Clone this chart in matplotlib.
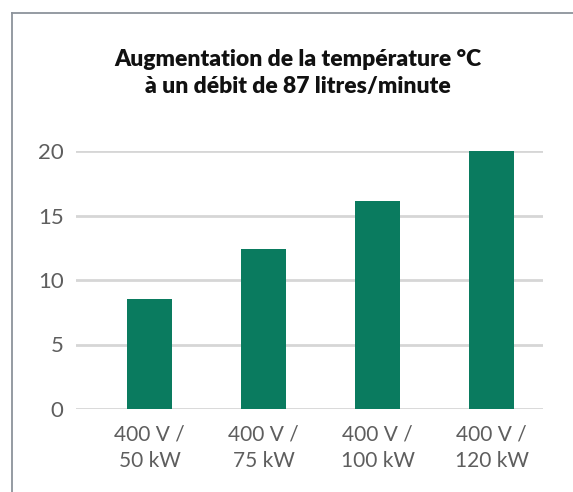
import matplotlib
matplotlib.use("Agg")
import matplotlib.pyplot as plt
from matplotlib.lines import Line2D
import numpy as np

# =========================================
# DATA
# =========================================
categories = ["400 V /\n50 kW", "400 V /\n75 kW", "400 V /\n100 kW", "400 V /\n120 kW"]
temp_rise = [8.5, 12.4, 16.1, 20.0]
y_ticks = [0, 5, 10, 15, 20]

title = "Augmentation de la température °C\nà un débit de 87 litres/minute"

bar_color = "#0a7b5f"
text_color = "#5e5e5e"
grid_color = "#d6d6d6"

plt.rcParams["font.family"] = "Lato"

fig = plt.figure(figsize=(5.73, 4.92), dpi=100)
ax = fig.add_axes([76 / 573, 1 - 409 / 492, (543 - 76) / 573, (409 - 151) / 492])

x = np.arange(len(categories))
ax.bar(x, temp_rise, width=0.395, color=bar_color, zorder=3)

ax.set_xlim(-0.645, 3.45)
ax.set_ylim(0, 20)
ax.set_yticks(y_ticks)
ax.set_yticklabels([str(t) for t in y_ticks], fontsize=16, color=text_color)
ax.set_xticks(x)
ax.set_xticklabels(categories, fontsize=15, color=text_color, linespacing=1.45)
ax.tick_params(axis="both", length=0)
ax.tick_params(axis="y", pad=9)
ax.tick_params(axis="x", pad=11)

ax.grid(axis="y", color=grid_color, linewidth=2, zorder=0)
ax.set_axisbelow(True)
for s in ax.spines.values():
    s.set_visible(False)

# title
fig.text(298 / 573, 1 - 73 / 492, title, ha="center", va="center",
         fontsize=16.5, fontweight="heavy", color="#111111", linespacing=1.35)

# frame (only top and left edges are visible)
W, H = 573, 492
fig.add_artist(Line2D([12 / W, 12 / W], [0, 1 - 13 / H], color="#8c939b", linewidth=1.3))
fig.add_artist(Line2D([12 / W, 1], [1 - 13 / H, 1 - 13 / H], color="#8c939b", linewidth=1.3))

fig.savefig("out.png", dpi=100)
